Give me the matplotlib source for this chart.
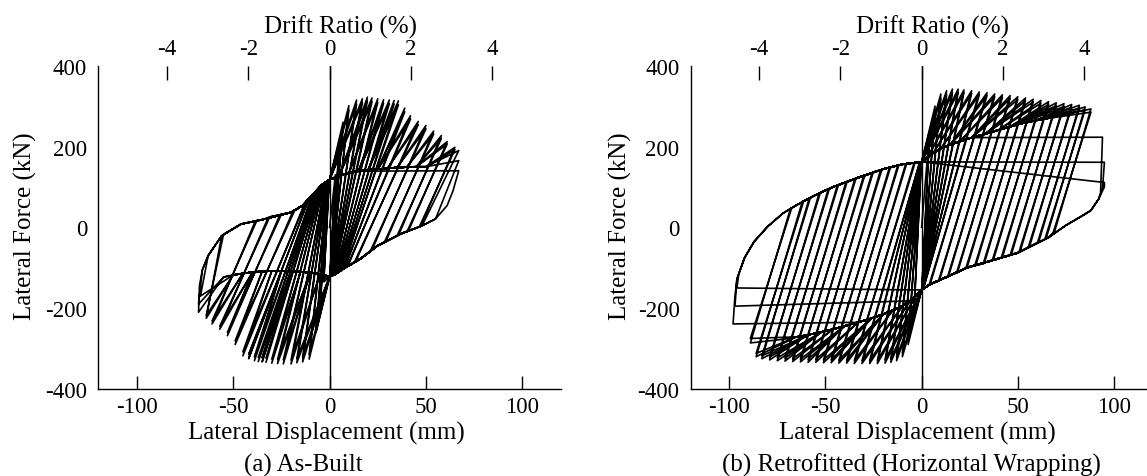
import matplotlib.pyplot as plt

plt.rcParams['font.family'] = ['Liberation Serif', 'DejaVu Serif']
plt.rcParams['axes.unicode_minus'] = False

# column height used for drift ratio (mm)
H_MM = 2110

# ---- (a) As-Built : one entry per cycle (two cycles per level) ----
a_pos_disp = [3, 3, 5, 5, 7, 7, 10, 10, 14, 14, 17, 17, 19.6, 19.6, 22, 22, 25, 25, 28, 28, 31, 31,
              33.5, 33.5, 35.7, 35.7, 39, 39, 42, 42, 46, 46, 50, 50, 54, 54, 58, 58, 61, 61, 65, 65, 67, 67, 67]
a_pos_force = [130, 122, 200, 190, 260, 248, 301, 290, 315, 305, 318, 309, 322, 312, 320, 311, 318, 309, 316, 307, 315, 306,
               314, 305, 313, 303, 295, 286, 276, 268, 262, 254, 252, 244, 238, 231, 227, 220, 212, 206, 198, 192, 190, 165, 140]
a_pos_knee_disp = [0.3, 0.3, 0.3, 0.3, 0.4, 0.4, 0.4, 0.4, 0.5, 0.5, 1, 1, 1.5, 1.5, 2, 2, 3, 2.8, 4, 3.7, 5, 4.6,
                   6, 5.6, 7, 6.5, 8, 7.5, 9.5, 9, 13.5, 12.8, 22, 21.2, 29.2, 28.4, 35.8, 35, 41, 40.2, 47.3, 46.5, 48, 55, 64]
a_pos_knee_force = [-110, -109, -115, -114, -118, -117, -120, -119, -120, -120, -119, -119, -118, -118, -117, -117, -116, -116,
                    -112, -113, -108, -110, -105, -106, -102, -104, -100, -101, -96, -98, -85, -87, -56, -58, -35, -37,
                    -19, -21, -8, -10, 3, 1, 4, 21, 90]
a_neg_disp = [-3, -3, -5, -5, -7, -7, -10.6, -10.6, -14, -14, -17, -17, -20, -20, -24, -24, -27, -27, -30, -30, -33, -33,
              -35, -35, -37, -37, -39, -39, -42, -42, -45, -45, -49, -49, -53, -53, -57, -57, -61, -61, -64, -64, -68, -68, -67]
a_neg_force = [-135, -127, -200, -190, -260, -248, -326, -314, -333, -322, -335, -325, -338, -328, -338, -328, -337, -327,
               -336, -326, -334, -324, -333, -323, -332, -322, -330, -320, -325, -315, -318, -308, -290, -281, -268, -260,
               -252, -245, -239, -232, -225, -218, -210, -190, -170]
a_neg_knee_disp = [-0.3, -0.3, -0.3, -0.3, -0.4, -0.4, -0.5, -0.5, -1, -1, -1.5, -1.5, -2, -2, -3, -2.8, -4, -3.7, -5, -4.6,
                   -6, -5.6, -7, -6.5, -8, -7.5, -9, -8.5, -11, -10.4, -13, -12.3, -19, -18.2, -25.8, -25, -31.8, -31,
                   -38.5, -37.7, -56, -55, -67.5, -66, -63]
a_neg_knee_force = [108, 107, 112, 111, 114, 113, 116, 115, 114, 114, 112, 112, 111, 111, 108, 109, 105, 106, 100, 102,
                    95, 97, 90, 92, 85, 87, 80, 82, 70, 73, 59, 62, 40, 41, 31, 32, 25, 26, 16, 17, -21, -17, -144, -105, -70]

# shared branches of (a)
a_load_pos_x = [0, 5, 10, 15, 20, 25, 30, 35, 40, 45, 50, 55, 60]
a_load_pos_y = [118, 128, 135, 139, 142, 144, 146, 148, 149, 150, 150, 150, 150]
a_lower_right_x = [67, 64, 61, 55, 48, 37, 25, 16, 8, 3, 0]
a_lower_right_y = [140, 90, 54, 21, 4, -16, -45, -78, -100, -116, -122]
a_load_neg_x = [0, -5, -10, -15, -20, -25, -30, -35, -40, -45, -50, -55, -60]
a_load_neg_y = [-122, -116, -112, -110, -109, -108, -108, -109, -111, -114, -118, -123, -128]
a_upper_left_x = [-68, -66, -63, -56, -46, -35, -20, -14, -8, -4, 0]
a_upper_left_y = [-144, -105, -70, -21, 8, 19, 37, 54, 85, 105, 118]

# ---- (b) Retrofitted (Horizontal Wrapping) ----
b_pos_disp = [4, 4, 7, 7, 10, 10, 13, 13, 16, 16, 19, 19, 22, 22, 26, 26, 30, 30, 34, 34, 38, 38, 42, 42, 46, 46,
              50, 50, 54, 54, 58, 58, 62, 62, 66, 66, 70, 70, 74, 74, 78, 78, 82, 82, 85, 85, 88, 88, 94, 95, 95]
b_pos_force = [230, 215, 300, 288, 330, 318, 338, 328, 342, 333, 342, 334, 340, 333, 338, 331, 335, 328, 333, 326,
               330, 323, 328, 321, 326, 319, 323, 316, 320, 313, 317, 310, 314, 307, 311, 304, 308, 301, 306, 299,
               304, 297, 302, 295, 298, 291, 293, 285, 223, 161, 111]
b_pos_knee_disp = [0.3, 0.3, 0.3, 0.3, 0.4, 0.4, 0.5, 0.5, 0.5, 0.5, 0.6, 0.6, 0.7, 0.7, 0.8, 0.8, 1, 1, 4.5, 4,
                   9.3, 8.8, 14, 13.5, 18.7, 18.2, 23.6, 23, 28.2, 27.6, 32.6, 32, 37.3, 36.7, 42, 41.4, 46.6, 46,
                   51.2, 50.6, 56, 55.4, 60.8, 60.2, 64.7, 64, 69, 68.3, 93, 94, 95]
b_pos_knee_force = [-140, -138, -146, -144, -150, -149, -152, -151, -152, -151, -152, -151, -151, -150, -151, -150,
                    -150, -150, -140, -141, -131, -132, -121, -122, -111, -112, -100, -101, -94, -95, -89, -90,
                    -81, -82, -74, -75, -68, -69, -60, -61, -49, -50, -37, -38, -28, -30, -12, -14, 85, 95, 100]
b_neg_disp = [-4, -4, -7, -7, -10, -10, -13, -13, -16, -16, -19, -19, -23, -23, -27, -27, -31, -31, -35, -35,
              -39, -39, -43, -43, -47, -47, -51, -51, -55, -55, -59, -59, -63, -63, -67, -67, -71, -71, -75, -75,
              -79, -79, -83, -83, -86, -86, -89, -89, -98, -97, -96]
b_neg_force = [-220, -208, -290, -278, -320, -310, -330, -321, -334, -326, -336, -328, -337, -330, -337, -330,
               -337, -330, -337, -330, -336, -329, -336, -329, -335, -328, -335, -328, -334, -327, -334, -327,
               -333, -326, -332, -325, -331, -324, -330, -323, -328, -321, -325, -318, -320, -312, -286, -275,
               -239, -195, -150]
b_neg_knee_disp = [-0.3, -0.3, -0.3, -0.3, -0.4, -0.4, -0.5, -0.5, -0.5, -0.5, -0.6, -0.6, -0.7, -0.7, -0.8, -0.8,
                   -1, -1, -3.9, -3.4, -8.3, -7.8, -12.4, -11.9, -16.8, -16.2, -21.3, -20.7, -25.7, -25.1,
                   -30.1, -29.5, -34.7, -34.1, -39.3, -38.7, -43.8, -43.2, -48.5, -47.9, -53.2, -52.6,
                   -58.4, -57.8, -62, -61.3, -68.2, -67.5, -97, -96, -95]
b_neg_knee_force = [150, 149, 158, 157, 160, 160, 161, 161, 161, 161, 161, 161, 161, 161, 161, 161, 161, 161,
                    160, 160, 157, 157, 153, 153, 147, 148, 142, 142, 136, 137, 128, 129, 120, 121, 112, 113,
                    104, 105, 95, 96, 85, 86, 72, 73, 64, 65, 46, 48, -170, -128, -115]

b_load_pos_x = [0, 3, 6, 10, 15, 20, 26, 33, 40, 46, 52, 59, 65, 70, 76, 81, 86]
b_load_pos_y = [162, 173, 184, 195, 205, 213, 222, 231, 241, 249, 257, 264, 269, 273, 277, 280, 283]
b_lower_right_x = [95, 92, 88, 84, 75, 66, 50, 38, 24, 12, 4, 0]
b_lower_right_y = [100, 70, 42, 30, 5, -25, -63, -80, -99, -125, -142, -155]
b_load_neg_x = [0, -3, -6, -10, -15, -20, -26, -33, -40, -46, -52, -59, -65, -70, -76, -81, -86]
b_load_neg_y = [-155, -170, -182, -195, -205, -215, -225, -235, -244, -252, -259, -266, -271, -276, -281, -285, -288]
b_upper_left_x = [-97, -96, -92, -87, -80, -72, -65, -56, -46, -33, -20, -10, 0]
b_upper_left_y = [-170, -128, -75, -35, 2, 35, 55, 78, 100, 123, 144, 156, 162]


def build_loops(pd, pf, pkd, pkf, nd, nf, nkd, nkf, lpx, lpy, lrx, lry, lnx, lny, ulx, uly, rise):
    # rise: displacement span over which a reloading branch leaves the band and climbs to its peak
    xs, ys = [0.0], [0.0]
    for i in range(len(pd)):
        for x, y in zip(lpx, lpy):
            if x < pd[i] - rise and y < pf[i]:
                xs.append(x); ys.append(y)
        xs += [pd[i], pkd[i]]; ys += [pf[i], pkf[i]]
        for x, y in zip(lrx, lry):
            if x < pkd[i]:
                xs.append(x); ys.append(y)
        for x, y in zip(lnx, lny):
            if x > nd[i] + rise and y > nf[i]:
                xs.append(x); ys.append(y)
        xs += [nd[i], nkd[i]]; ys += [nf[i], nkf[i]]
        for x, y in zip(ulx, uly):
            if x > nkd[i]:
                xs.append(x); ys.append(y)
    return xs, ys


def style_axes(ax, caption, cap_x, xl_x, yl_x, dr_x):
    ax.set_xlim(-120, 120)
    ax.set_ylim(-400, 400)
    ax.spines['top'].set_visible(False)
    ax.spines['right'].set_visible(False)
    ax.spines['left'].set_linewidth(1.0)
    ax.spines['bottom'].set_linewidth(1.0)
    ax.axvline(0, color='black', lw=1.0)
    ax.set_xticks([-100, -50, 0, 50, 100])
    ax.set_yticks([-400, -200, 0, 200, 400])
    ax.tick_params(axis='x', direction='in', length=9.5, width=1.0, pad=5, labelsize=16.5)
    ax.tick_params(axis='y', length=0, pad=8, labelsize=16.5)
    sec = ax.secondary_xaxis('top', functions=(lambda d: d / H_MM * 100, lambda r: r * H_MM / 100))
    sec.set_xticks([-4, -2, 0, 2, 4])
    sec.tick_params(direction='in', length=10, width=1.0, pad=5, labelsize=16.5)
    sec.spines['top'].set_visible(False)
    kw = dict(transform=ax.transAxes, ha='center', va='center', fontsize=18, clip_on=False)
    ax.text(dr_x, 1.123, 'Drift Ratio (%)', **kw)
    ax.text(xl_x, -0.133, 'Lateral Displacement (mm)', **kw)
    ax.text(cap_x, -0.232, caption, **kw)
    ax.text(yl_x, 0.507, 'Lateral Force (kN)', rotation=90, **kw)


fig = plt.figure(figsize=(11.47, 4.77), dpi=100)
ax1 = fig.add_axes([0.0857, 0.1824, 0.4033, 0.6778])
ax2 = fig.add_axes([0.6022, 0.1824, 0.4026, 0.6778])

xa, ya = build_loops(a_pos_disp, a_pos_force, a_pos_knee_disp, a_pos_knee_force,
                     a_neg_disp, a_neg_force, a_neg_knee_disp, a_neg_knee_force,
                     a_load_pos_x, a_load_pos_y, a_lower_right_x, a_lower_right_y,
                     a_load_neg_x, a_load_neg_y, a_upper_left_x, a_upper_left_y, 12)
xb, yb = build_loops(b_pos_disp, b_pos_force, b_pos_knee_disp, b_pos_knee_force,
                     b_neg_disp, b_neg_force, b_neg_knee_disp, b_neg_knee_force,
                     b_load_pos_x, b_load_pos_y, b_lower_right_x, b_lower_right_y,
                     b_load_neg_x, b_load_neg_y, b_upper_left_x, b_upper_left_y, 18)

ax1.plot(xa, ya, color='black', lw=1.2)
ax2.plot(xb, yb, color='black', lw=1.2)

style_axes(ax1, '(a) As-Built', 0.444, 0.492, -0.158, 0.524)
style_axes(ax2, '(b) Retrofitted (Horizontal Wrapping)', 0.479, 0.491, -0.153, 0.5225)

fig.savefig('out.png', dpi=100)
